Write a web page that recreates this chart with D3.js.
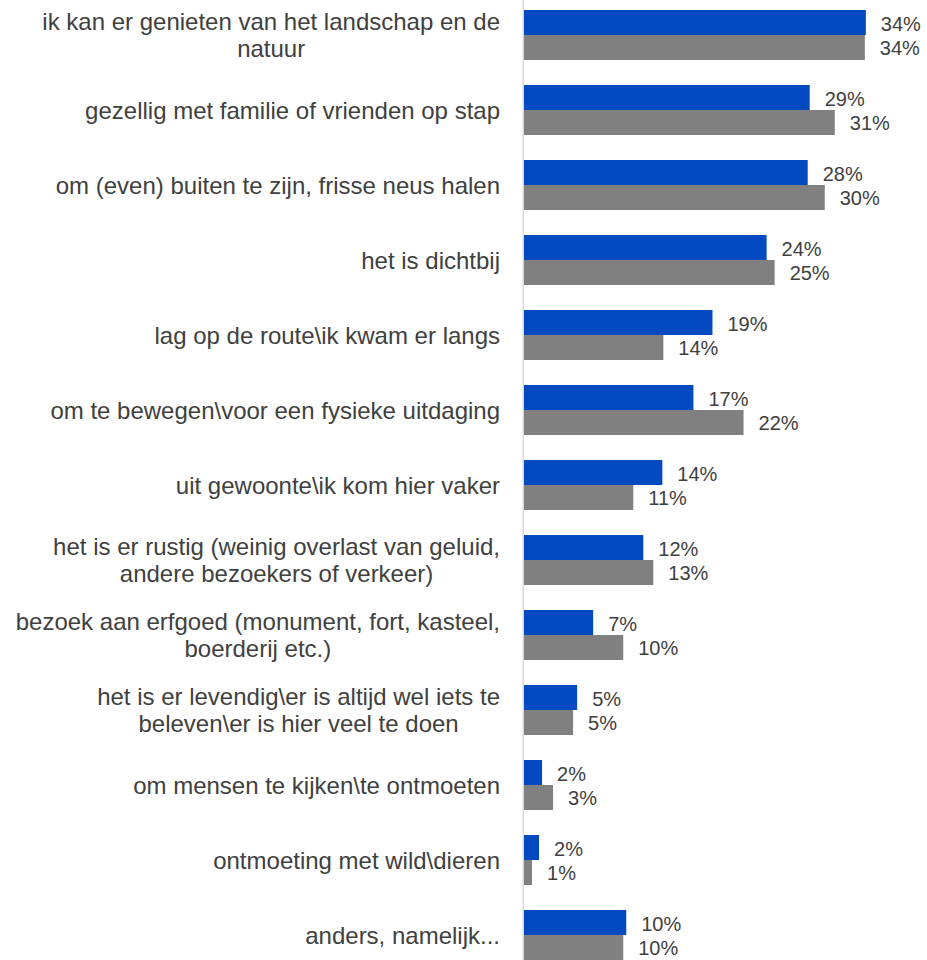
<!DOCTYPE html>
<html>
<head>
<meta charset="utf-8">
<script src="https://cdn.jsdelivr.net/npm/d3@7"></script>
<style>
  html, body { margin: 0; padding: 0; background: #fff; }
  svg { display: block; }
</style>
</head>
<body>
<svg id="chart" width="927" height="960"></svg>
<script>
const categories = [
  "ik kan er genieten van het landschap en de\nnatuur",
  "gezellig met familie of vrienden op stap",
  "om (even) buiten te zijn, frisse neus halen",
  "het is dichtbij",
  "lag op de route\\ik kwam er langs",
  "om te bewegen\\voor een fysieke uitdaging",
  "uit gewoonte\\ik kom hier vaker",
  "het is er rustig (weinig overlast van geluid,\nandere bezoekers of verkeer)",
  "bezoek aan erfgoed (monument, fort, kasteel,\nboerderij etc.)",
  "het is er levendig\\er is altijd wel iets te\nbeleven\\er is hier veel te doen",
  "om mensen te kijken\\te ontmoeten",
  "ontmoeting met wild\\dieren",
  "anders, namelijk..."
];
const seriesNames = ["blauw", "grijs"];
const valuesBlue = [34.1, 28.5, 28.3, 24.2, 18.8, 16.9, 13.8, 11.9, 6.9, 5.3, 1.8, 1.5, 10.2];
const valuesGray = [34.0, 31.0, 30.0, 25.0, 13.9, 21.9, 10.9, 12.9, 9.9, 4.9, 2.9, 0.8, 9.9];
const seriesColors = ["#034AC0", "#808080"];

const rows = categories.map((c, i) => ({ cat: c, vals: [valuesBlue[i], valuesGray[i]] }));

const svg = d3.select("#chart");
const x0 = 524;
const x = d3.scaleLinear().domain([0, 40]).range([x0, x0 + 401]);
const y = d3.scaleBand().domain(categories).range([-2.5, 972.5]).paddingInner(1/3).paddingOuter(1/6);
const ys = d3.scaleBand().domain(seriesNames).range([0, y.bandwidth()]);

// axis line
svg.append("line")
  .attr("x1", x0 - 0.75).attr("x2", x0 - 0.75)
  .attr("y1", 0).attr("y2", 960)
  .attr("stroke", "#D9D9D9").attr("stroke-width", 1.5);

const g = svg.selectAll("g.row").data(rows).join("g")
  .attr("class", "row")
  .attr("transform", d => `translate(0,${y(d.cat)})`);

g.selectAll("rect").data(d => d.vals.map((v, j) => ({ v, s: seriesNames[j], j })))
  .join("rect")
  .attr("x", x(0))
  .attr("y", d => ys(d.s))
  .attr("width", d => x(d.v) - x(0))
  .attr("height", ys.bandwidth())
  .attr("fill", d => seriesColors[d.j]);

g.selectAll("text.val").data(d => d.vals.map((v, j) => ({ v, s: seriesNames[j], j })))
  .join("text")
  .attr("class", "val")
  .attr("x", d => x(d.v) + 15)
  .attr("y", d => ys(d.s) + ys.bandwidth() / 2 + (d.j === 0 ? 1.5 : 0))
  .attr("dy", "0.36em")
  .attr("font-family", "'Liberation Sans', Arial, sans-serif")
  .attr("font-size", "20px")
  .attr("fill", "#404040")
  .text(d => Math.round(d.v) + "%");

// category labels: block right-aligned at 500, lines centered within block
const labelRight = 500;
const lineH = 26.5;
g.each(function(d) {
  const lines = d.cat.split("\n");
  const grp = d3.select(this);
  const t = grp.append("text")
    .attr("font-family", "'Liberation Sans', Arial, sans-serif")
    .attr("font-size", "24px")
    .attr("fill", "#404040")
    .attr("text-anchor", "middle");
  const cy = y.bandwidth() / 2;
  const spans = lines.map((ln, k) => t.append("tspan")
    .attr("y", cy + (k - (lines.length - 1) / 2) * lineH)
    .attr("dy", "0.36em")
    .text(ln));
  const maxW = d3.max(spans, s => s.node().getComputedTextLength());
  spans.forEach(s => s.attr("x", labelRight - maxW / 2));
});
</script>
</body>
</html>
